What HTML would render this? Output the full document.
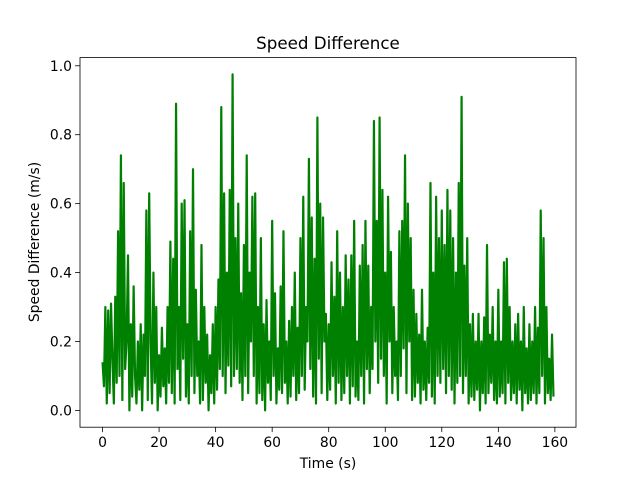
<!DOCTYPE html>
<html><head><meta charset="utf-8"><style>
html,body{margin:0;padding:0;background:#fff;}
svg text{font-family:"DejaVu Sans","Liberation Sans",sans-serif;fill:#000;}
</style></head><body>
<svg id="chart" width="640" height="480" viewBox="0 0 640 480" xmlns="http://www.w3.org/2000/svg">
<rect x="0" y="0" width="640" height="480" fill="#fff"/>
<g id="plot"></g>
<rect x="80" y="57.6" width="496" height="369.6" fill="none" stroke="#000" stroke-width="0.8"/>
<g id="xticks"></g>
<g id="yticks"></g>
<text x="328" y="49" font-size="16.7" text-anchor="middle">Speed Difference</text>
<text x="328" y="468" font-size="13.9" text-anchor="middle">Time (s)</text>
<text transform="translate(39,242) rotate(-90)" font-size="13.9" text-anchor="middle">Speed Difference (m/s)</text>
</svg>
<script>
const timeStep = 0.5;
const speedDiff = [
0.14,0.07,0.3,0.02,0.29,0.05,0.31,0.15,0.02,0.33,
0.08,0.52,0.1,0.74,0.03,0.66,0.12,0.2,0.45,0.0,
0.25,0.04,0.36,0.1,0.02,0.2,0.06,0.25,0.0,0.22,
0.1,0.58,0.03,0.63,0.2,0.02,0.4,0.08,0.3,0.0,
0.16,0.04,0.24,0.07,0.18,0.02,0.3,0.08,0.49,0.05,
0.44,0.02,0.89,0.12,0.3,0.03,0.6,0.15,0.61,0.04,
0.25,0.02,0.52,0.1,0.7,0.05,0.35,0.1,0.2,0.02,
0.48,0.03,0.3,0.08,0.22,0.0,0.16,0.05,0.25,0.02,
0.3,0.06,0.38,0.12,0.88,0.1,0.63,0.05,0.4,0.13,
0.64,0.07,0.975,0.1,0.5,0.12,0.6,0.08,0.34,0.03,
0.48,0.1,0.74,0.05,0.4,0.2,0.62,0.1,0.63,0.02,
0.3,0.05,0.5,0.03,0.25,0.0,0.32,0.08,0.2,0.03,
0.55,0.1,0.34,0.02,0.18,0.06,0.36,0.05,0.52,0.08,
0.2,0.02,0.26,0.04,0.3,0.1,0.4,0.03,0.24,0.05,
0.5,0.1,0.62,0.06,0.3,0.2,0.73,0.12,0.56,0.04,
0.44,0.02,0.85,0.15,0.6,0.05,0.56,0.2,0.28,0.03,
0.25,0.06,0.43,0.1,0.33,0.02,0.52,0.08,0.4,0.03,
0.3,0.05,0.45,0.1,0.38,0.02,0.45,0.07,0.55,0.04,
0.2,0.03,0.42,0.1,0.48,0.02,0.55,0.12,0.42,0.05,
0.3,0.12,0.84,0.2,0.55,0.08,0.85,0.15,0.64,0.1,
0.4,0.02,0.62,0.2,0.46,0.05,0.3,0.1,0.2,0.03,
0.52,0.1,0.55,0.18,0.74,0.05,0.6,0.2,0.5,0.03,
0.35,0.04,0.28,0.08,0.22,0.02,0.35,0.06,0.2,0.03,
0.24,0.08,0.66,0.04,0.4,0.02,0.62,0.1,0.5,0.08,
0.58,0.12,0.48,0.05,0.64,0.1,0.58,0.06,0.5,0.02,
0.4,0.08,0.66,0.1,0.91,0.05,0.42,0.1,0.5,0.02,
0.25,0.04,0.28,0.03,0.2,0.06,0.28,0.0,0.2,0.05,
0.27,0.02,0.48,0.05,0.22,0.08,0.3,0.03,0.2,0.02,
0.35,0.04,0.2,0.05,0.43,0.02,0.44,0.08,0.3,0.03,
0.2,0.05,0.25,0.02,0.28,0.06,0.2,0.0,0.3,0.05,
0.18,0.02,0.25,0.03,0.2,0.05,0.3,0.02,0.24,0.05,
0.58,0.1,0.5,0.02,0.3,0.05,0.15,0.03,0.22,0.04
];
const xTickValues = [0,20,40,60,80,100,120,140,160];
const yTickValues = [0.0,0.2,0.4,0.6,0.8,1.0];
const yTickLabels = ["0.0","0.2","0.4","0.6","0.8","1.0"];

const NS = "http://www.w3.org/2000/svg";
const L = 80, R = 576, T = 57.6, B = 427.2;
const tMax = (speedDiff.length - 1) * timeStep;
const xMin = -0.05 * tMax, xMax = tMax * 1.05;
const vMin = Math.min(...speedDiff), vMax = Math.max(...speedDiff);
const yMin = vMin - 0.05 * (vMax - vMin), yMax = vMax + 0.05 * (vMax - vMin);
const xs = v => L + (v - xMin) / (xMax - xMin) * (R - L);
const ys = v => B - (v - yMin) / (yMax - yMin) * (B - T);

const plot = document.getElementById('plot');
const pts = speedDiff.map((v, i) => xs(i * timeStep).toFixed(2) + ',' + ys(v).toFixed(2)).join(' ');
const line = document.createElementNS(NS, 'polyline');
line.setAttribute('points', pts);
line.setAttribute('fill', 'none');
line.setAttribute('stroke', '#008000');
line.setAttribute('stroke-width', '2.2');
line.setAttribute('stroke-linejoin', 'round');


plot.appendChild(line);

const xg = document.getElementById('xticks');
xTickValues.forEach(v => {
  const x = xs(v);
  const tk = document.createElementNS(NS, 'line');
  tk.setAttribute('x1', x); tk.setAttribute('x2', x);
  tk.setAttribute('y1', B); tk.setAttribute('y2', B + 4.9);
  tk.setAttribute('stroke', '#000'); tk.setAttribute('stroke-width', '0.8');
  
  
  xg.appendChild(tk);
  const tx = document.createElementNS(NS, 'text');
  tx.setAttribute('x', x); tx.setAttribute('y', B + 20);
  tx.setAttribute('font-size', '13.9'); tx.setAttribute('text-anchor', 'middle');
  tx.textContent = String(v);
  
  
  xg.appendChild(tx);
});
const yg = document.getElementById('yticks');
yTickValues.forEach((v, i) => {
  const y = ys(v);
  const tk = document.createElementNS(NS, 'line');
  tk.setAttribute('x1', L - 4.9); tk.setAttribute('x2', L);
  tk.setAttribute('y1', y); tk.setAttribute('y2', y);
  tk.setAttribute('stroke', '#000'); tk.setAttribute('stroke-width', '0.8');
  
  
  yg.appendChild(tk);
  const tx = document.createElementNS(NS, 'text');
  tx.setAttribute('x', L - 8); tx.setAttribute('y', y + 5);
  tx.setAttribute('font-size', '13.9'); tx.setAttribute('text-anchor', 'end');
  tx.textContent = yTickLabels[i];
  
  
  yg.appendChild(tx);
});
</script>
</body></html>
